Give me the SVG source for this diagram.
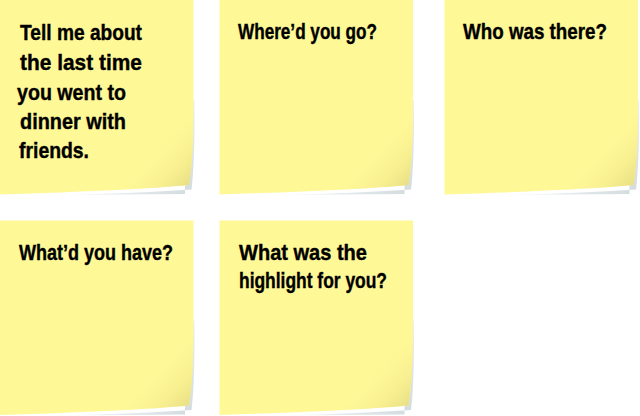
<svg xmlns="http://www.w3.org/2000/svg" xmlns:xlink="http://www.w3.org/1999/xlink" width="640" height="416" viewBox="0 0 640 416">
  <style>
    .t { font-family: "Comic Sans MS", "Liberation Sans", "DejaVu Sans", sans-serif; font-size: 22px; font-weight: bold; fill: #000000; stroke: #000000; stroke-width: 0.4; }
    .paper { fill: #fff897; }
  </style>
  <defs>
    <linearGradient id="shade" gradientUnits="userSpaceOnUse" x1="150" y1="150" x2="190" y2="188">
      <stop offset="0" stop-color="#fff897" stop-opacity="0"/>
      <stop offset="0.6" stop-color="#f3ea8c" stop-opacity="0.7"/>
      <stop offset="1" stop-color="#e6dc84" stop-opacity="1"/>
    </linearGradient>
    <linearGradient id="shadow" gradientUnits="userSpaceOnUse" x1="120" y1="120" x2="192" y2="192">
      <stop offset="0" stop-color="#e6ecee" stop-opacity="0"/>
      <stop offset="0.5" stop-color="#dfe6e9" stop-opacity="0.8"/>
      <stop offset="1" stop-color="#d2dbdf" stop-opacity="1"/>
    </linearGradient>
    <g id="note">
      <path d="M0,195.5 Q110,195 191.5,189.5 Q195,160 194.5,100 L185,100 L185,194 Z" fill="url(#shadow)"/>
      <path class="paper" d="M0,0 H193.5 V105 Q193.5,158 189,185 Q130,190.5 0,194.5 Z"/>
      <path d="M0,0 H193.5 V105 Q193.5,158 189,185 Q130,190.5 0,194.5 Z" fill="url(#shade)"/>
    </g>
  </defs>
  <rect width="640" height="416" fill="#ffffff"/>
  <g id="connectors"/>
  <g id="note1">
    <use xlink:href="#note" href="#note" x="0" y="0"/>
    <text class="t" x="20" y="40" textLength="122" lengthAdjust="spacingAndGlyphs">Tell me about</text>
    <text class="t" x="20" y="70" textLength="122" lengthAdjust="spacingAndGlyphs">the last time</text>
    <text class="t" x="17" y="100" textLength="109" lengthAdjust="spacingAndGlyphs">you went to</text>
    <text class="t" x="20" y="129" textLength="106" lengthAdjust="spacingAndGlyphs">dinner with</text>
    <text class="t" x="19" y="158" textLength="70" lengthAdjust="spacingAndGlyphs">friends.</text>
  </g>
  <g id="note2">
    <use xlink:href="#note" href="#note" x="219.5" y="0"/>
    <text class="t" x="238" y="39" textLength="139" lengthAdjust="spacingAndGlyphs">Where’d you go?</text>
  </g>
  <g id="note3">
    <use xlink:href="#note" href="#note" x="444.5" y="0"/>
    <text class="t" x="463" y="39" textLength="144" lengthAdjust="spacingAndGlyphs">Who was there?</text>
  </g>
  <g id="note4">
    <use xlink:href="#note" href="#note" x="0" y="220.5"/>
    <text class="t" x="19" y="260" textLength="154" lengthAdjust="spacingAndGlyphs">What’d you have?</text>
  </g>
  <g id="note5">
    <use xlink:href="#note" href="#note" x="219.5" y="220.5"/>
    <text class="t" x="239" y="260" textLength="128" lengthAdjust="spacingAndGlyphs">What was the</text>
    <text class="t" x="239" y="288" textLength="148" lengthAdjust="spacingAndGlyphs">highlight for you?</text>
  </g>
</svg>
